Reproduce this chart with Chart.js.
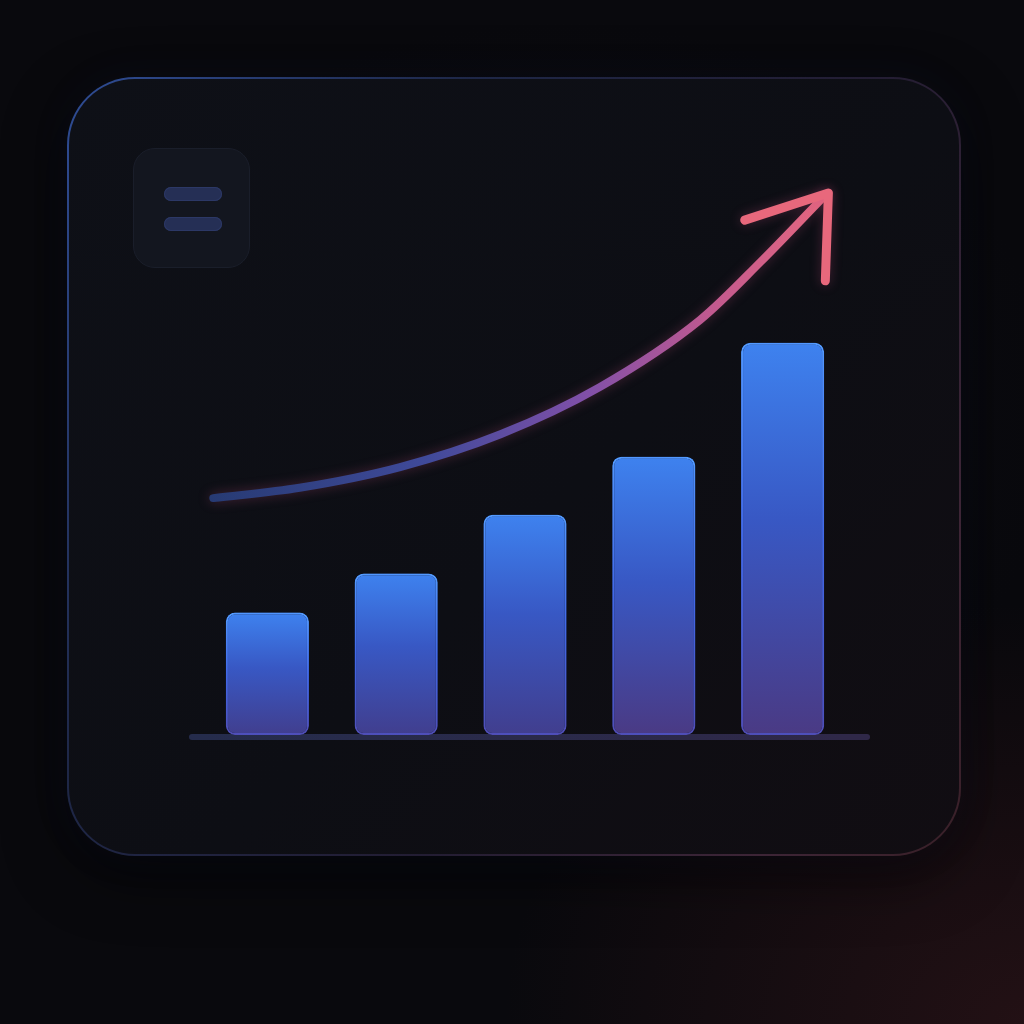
<!DOCTYPE html>
<html>
<head>
<meta charset="utf-8">
<script src="https://cdn.jsdelivr.net/npm/chart.js@4"></script>
<style>
  html, body { margin:0; padding:0; width:1024px; height:1024px; overflow:hidden; }
  body {
    background:
      radial-gradient(ellipse 520px 420px at 1024px 1024px, rgba(60,24,28,0.5), rgba(60,24,28,0) 100%),
      radial-gradient(ellipse 500px 400px at 560px 420px, rgba(16,16,24,0.6), rgba(16,16,24,0) 100%),
      #09090d;
  }
  #card {
    position:absolute; left:67px; top:77px; width:890px; height:775px;
    border-radius:68px;
    border:2px solid transparent;
    background:
      linear-gradient(135deg, #0e1017 0%, #0d0e14 55%, #110d12 100%) padding-box,
      linear-gradient(120deg, #2f4d96 0%, #1e2747 30%, #231d33 60%, #3d2536 85%, #3a2028 100%) border-box;
    box-shadow: 0 0 40px rgba(40,60,140,0.08), 0 20px 60px rgba(0,0,0,0.5);
  }
  #menu {
    position:absolute; left:133px; top:148px; width:117px; height:120px;
    border-radius:22px; background:#13161f; border:1px solid #1a1e2a; box-sizing:border-box;
  }
  #menu div {
    position:absolute; left:30px; width:58px; height:14px; border-radius:7px;
    background:#252f55; box-shadow: inset 0 0 0 1px #2c3866;
  }
  #c { position:absolute; left:0; top:0; }
</style>
</head>
<body>
<div id="card"></div>
<div id="menu"><div style="top:38px"></div><div style="top:68px"></div></div>
<canvas id="c" width="1024" height="1024"></canvas>
<script>
// bar values
var categorie = ["1", "2", "3", "4", "5"];
var valoriBarre = [21.3, 28.1, 38.3, 48.4, 68.2];

// trend curve, x in category units (bar i centred at i+0.5)
var curvaX = [0.08, 0.75, 1.53, 2.31, 3.08, 3.86, 4.33, 4.84];
var curvaY = [41.2, 43.0, 46.6, 52.3, 60.5, 72.2, 82.3, 94.1];

var asseMax = 100;

var puntiCurva = [];
for (var i = 0; i < curvaX.length; i++) {
  puntiCurva.push({ x: curvaX[i], y: curvaY[i] });
}

function coloreBarra(ctx)
{
  var chart = ctx.chart;
  if (!chart.chartArea || !chart.scales.y) return "#3a70e0";
  var y = chart.scales.y;
  var top = y.getPixelForValue(ctx.raw);
  var base = y.getPixelForValue(0);
  var g = chart.ctx.createLinearGradient(0, top, 0, base);
  var f = ctx.dataIndex / (categorie.length - 1);
  g.addColorStop(0, "#3e82ef");
  g.addColorStop(0.45, "#3858c4");
  g.addColorStop(1, f > 0.6 ? "#4a3a84" : "#413e8e");
  return g;
}

function bordoBarra(ctx)
{
  var chart = ctx.chart;
  if (!chart.chartArea || !chart.scales.y) return "#4f8fff";
  var y = chart.scales.y;
  var top = y.getPixelForValue(ctx.raw);
  var base = y.getPixelForValue(0);
  var g = chart.ctx.createLinearGradient(0, top, 0, base);
  g.addColorStop(0, "#58a4ff");
  g.addColorStop(0.5, "#4468e0");
  g.addColorStop(1, "#5448a8");
  return g;
}

function coloreCurva(ctx)
{
  var chart = ctx.chart;
  var a = chart.chartArea;
  if (!a) return "#6a4aa8";
  var g = chart.ctx.createLinearGradient(a.left, 0, a.right, 0);
  g.addColorStop(0, "#263a72");
  g.addColorStop(0.35, "#404a9a");
  g.addColorStop(0.6, "#8250a8");
  g.addColorStop(0.8, "#c45a8e");
  g.addColorStop(1, "#ec6a7c");
  return g;
}

var pluginDecori = {
  id: "decori",
  beforeDatasetsDraw: function(chart) {
    // base line under the bars
    var a = chart.chartArea;
    var c = chart.ctx;
    c.save();
    var g = c.createLinearGradient(a.left, 0, a.right, 0);
    g.addColorStop(0, "#252c4c");
    g.addColorStop(1, "#2f2848");
    c.strokeStyle = g;
    c.lineWidth = 6;
    c.lineCap = "round";
    c.beginPath();
    c.moveTo(a.left - 11, a.bottom + 2);
    c.lineTo(a.right + 20, a.bottom + 2);
    c.stroke();
    c.restore();
  },
  beforeDatasetDraw: function(chart, args) {
    var c = chart.ctx;
    c.save();
    if (args.meta.type === "bar") {
      c.shadowColor = "rgba(55,105,255,0.5)";
      c.shadowBlur = 26;
    } else {
      c.shadowColor = "rgba(200,80,130,0.3)";
      c.shadowBlur = 12;
    }
  },
  afterDatasetDraw: function(chart, args) {
    var c = chart.ctx;
    if (args.meta.type === "line") {
      // arrow head at the last point of the curve
      var pts = args.meta.data;
      var p = pts[pts.length - 1];
      var tx = p.x + 2, ty = p.y - 1;
      var len = 88;
      var a1 = 162 * Math.PI / 180, a2 = 92 * Math.PI / 180;
      c.strokeStyle = "#e8687c";
      c.lineWidth = 9;
      c.lineCap = "round";
      c.lineJoin = "round";
      c.beginPath();
      c.moveTo(tx + len * Math.cos(a1), ty + len * Math.sin(a1));
      c.lineTo(tx, ty);
      c.lineTo(tx + len * Math.cos(a2), ty + len * Math.sin(a2));
      c.stroke();
    }
    c.restore();
  }
};

new Chart(document.getElementById("c"), {
  type: "bar",
  data: {
    labels: categorie,
    datasets: [
      {
        type: "line",
        data: puntiCurva,
        xAxisID: "xc",
        borderColor: coloreCurva,
        borderWidth: 8,
        borderCapStyle: "round",
        pointRadius: 0,
        cubicInterpolationMode: "monotone",
        fill: false,
        clip: false,
        order: 0
      },
      {
        data: valoriBarre,
        backgroundColor: coloreBarra,
        borderColor: bordoBarra,
        borderWidth: 2,
        borderRadius: 9,
        borderSkipped: false,
        barPercentage: 0.645,
        categoryPercentage: 1,
        grouped: false,
        clip: false,
        order: 1
      }
    ]
  },
  options: {
    responsive: false,
    animation: false,
    devicePixelRatio: 1,
    layout: { padding: { left: 203, right: 177, top: 160, bottom: 289 } },
    plugins: { legend: { display: false }, tooltip: { enabled: false } },
    scales: {
      x: { display: false },
      xc: { type: "linear", display: false, offset: false, min: 0, max: categorie.length },
      y: { display: false, min: 0, max: asseMax }
    }
  },
  plugins: [pluginDecori]
});
</script>
</body>
</html>
